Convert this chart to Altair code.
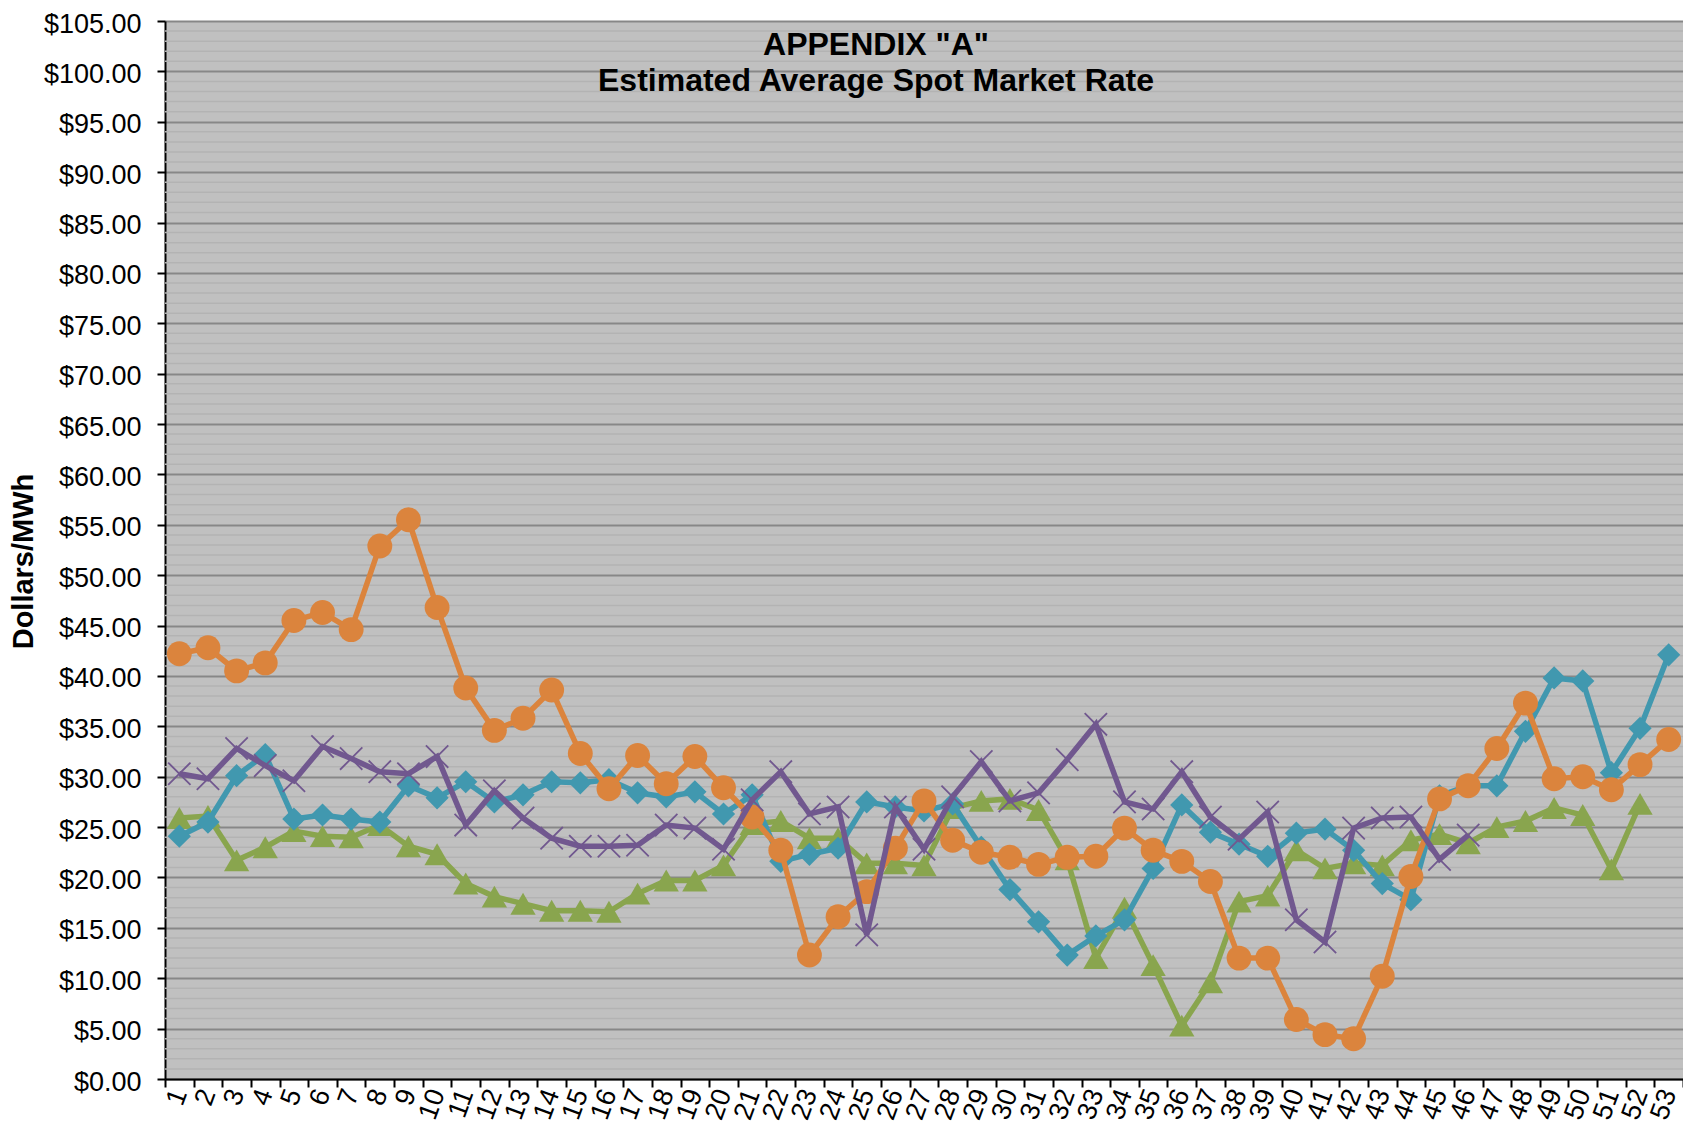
import altair as alt
import pandas as pd

# ---- data ----
weeks = list(range(1, 54))

teal = [24.1, 25.5, 30.1, 32.2, 25.8, 26.2, 25.8, 25.5, 29.1, 27.9,
        29.5, 27.5, 28.2, 29.5, 29.4, 29.7, 28.4, 28.0, 28.5, 26.3,
        28.2, 21.6, 22.3, 22.9, 27.5, 27.0, 26.6, 27.3, 23.0, 18.8,
        15.6, 12.3, 14.2, 15.8, 20.9, 27.2, 24.5, 23.3, 22.1, 24.4,
        24.8, 22.7, 19.4, 17.8, 28.1, 29.1, 29.1, 34.5, 39.8, 39.5,
        30.4, 34.8, 42.1]

orange = [42.2, 42.8, 40.5, 41.3, 45.5, 46.3, 44.6, 52.9, 55.5, 46.8,
          38.8, 34.6, 35.8, 38.6, 32.3, 28.8, 32.1, 29.3, 32.0, 28.9,
          26.0, 22.7, 12.3, 16.1, 18.6, 22.9, 27.6, 23.7, 22.5, 22.0,
          21.3, 22.0, 22.1, 24.9, 22.7, 21.6, 19.6, 12.0, 12.0, 5.9,
          4.4, 4.0, 10.2, 20.1, 27.8, 29.1, 32.8, 37.3, 29.8, 30.0,
          28.7, 31.2, 33.7]

green = [25.9, 26.1, 21.7, 23.0, 24.6, 24.1, 24.0, 25.2, 23.1, 22.3,
         19.4, 18.1, 17.4, 16.7, 16.7, 16.6, 18.4, 19.7, 19.7, 21.2,
         25.3, 25.6, 23.9, 23.9, 21.4, 21.4, 21.2, 26.9, 27.6, 27.8,
         26.7, 21.8, 12.0, 17.0, 11.3, 5.3, 9.6, 17.6, 18.2, 22.7,
         20.9, 21.4, 21.2, 23.7, 24.3, 23.4, 25.0, 25.6, 26.9, 26.2,
         20.8, 27.3]

purple = [30.3, 29.8, 32.8, 31.1, 29.6, 33.0, 31.8, 30.5, 30.3, 32.0,
          25.2, 28.6, 25.9, 23.9, 23.1, 23.1, 23.2, 25.2, 24.9, 22.8,
          27.7, 30.5, 26.3, 27.0, 14.3, 27.0, 22.8, 28.0, 31.5, 27.6,
          28.4, 31.7, 35.2, 27.5, 26.8, 30.5, 26.0, 23.8, 26.5, 15.8,
          13.6, 24.9, 25.9, 26.0, 21.8, 24.2]

y_ticks = list(range(0, 106, 5))
minor_ticks = [v for v in range(0, 106) if v % 5 != 0]

title_line1 = 'APPENDIX "A"'
title_line2 = "Estimated Average Spot Market Rate"
y_title = "Dollars/MWh"

FONT = "Liberation Sans"

PLOT_W = 1518
PLOT_H = 1058

x_def = alt.X(
    "week:O",
    sort=weeks,
    scale=alt.Scale(type="band", domain=weeks, paddingInner=0, paddingOuter=0),
    bandPosition=0.5,
    axis=alt.Axis(
        title=None,
        tickBand="extent",
        labelAngle=-70,
        labelFont=FONT,
        labelFontSize=27,
        labelColor="black",
        labelPadding=3,
        tickSize=8,
        tickColor="black",
        tickWidth=2,
        domainColor="black",
        domainWidth=2,
        grid=False,
        labelOverlap=False,
    ),
)

y_scale = alt.Scale(domain=[0, 105], nice=False, zero=True)
y_def = alt.Y(
    "value:Q",
    scale=y_scale,
    axis=alt.Axis(
        values=y_ticks,
        format="$.2f",
        title=y_title,
        titleFont=FONT,
        titleFontSize=29,
        titleFontWeight="bold",
        titleColor="black",
        titleAngle=-90,
        titleAlign="center",
        titleBaseline="middle",
        titleX=-142,
        titleY=540,
        labelFont=FONT,
        labelFontSize=27,
        labelColor="black",
        labelPadding=16,
        labelOffset=3,
        tickSize=8,
        tickColor="black",
        tickWidth=2,
        domainColor="black",
        domainWidth=2,
        grid=True,
        gridColor="#878787",
        gridWidth=2,
    ),
)

# minor gridlines
minor_df = pd.DataFrame({"value": minor_ticks})
minor = alt.Chart(minor_df).mark_rule(color="#B3B3B3", strokeWidth=1.5).encode(y=y_def)

X_PATH = "M-1,-1L1,1M-1,1L1,-1"

specs = [
    ("Series 3", green, "#89A54E", "triangle-up", True, 640),
    ("Series 1", teal, "#4198AF", "diamond", True, 540),
    ("Series 2", orange, "#DB843D", "circle", True, 620),
    ("Series 4", purple, "#71588F", X_PATH, False, 500),
]

layers = [minor]
for name, vals, color, shape, filled, size in specs:
    df = pd.DataFrame({"week": weeks[: len(vals)], "value": vals, "series": name})
    base = alt.Chart(df).encode(x=x_def, y=y_def)
    line = base.mark_line(color=color, strokeWidth=5.5)
    if filled:
        pts = base.mark_point(shape=shape, filled=True, size=size, color=color, opacity=1)
    else:
        pts = base.mark_point(shape=shape, filled=False, size=size, color=color,
                              strokeWidth=1.8, opacity=1)
    layers += [line, pts]

t1 = alt.Chart(pd.DataFrame({"t": [title_line1]})).mark_text(
    font=FONT, fontSize=32, fontWeight="bold", color="black", align="center", baseline="middle"
).encode(text="t:N", x=alt.value(711), y=alt.value(24))
t2 = alt.Chart(pd.DataFrame({"t": [title_line2]})).mark_text(
    font=FONT, fontSize=32, fontWeight="bold", color="black", align="center", baseline="middle"
).encode(text="t:N", x=alt.value(711), y=alt.value(60))
layers += [t1, t2]

chart = alt.layer(*layers).properties(
    width=PLOT_W,
    height=PLOT_H,
    autosize=alt.AutoSizeParams(type="none"),
    padding={"left": 157, "top": 13, "right": 0, "bottom": 44},
).configure_view(fill="#C0C0C0", stroke="transparent")

chart.save("out.html", embed_options={"renderer": "svg", "actions": False})
